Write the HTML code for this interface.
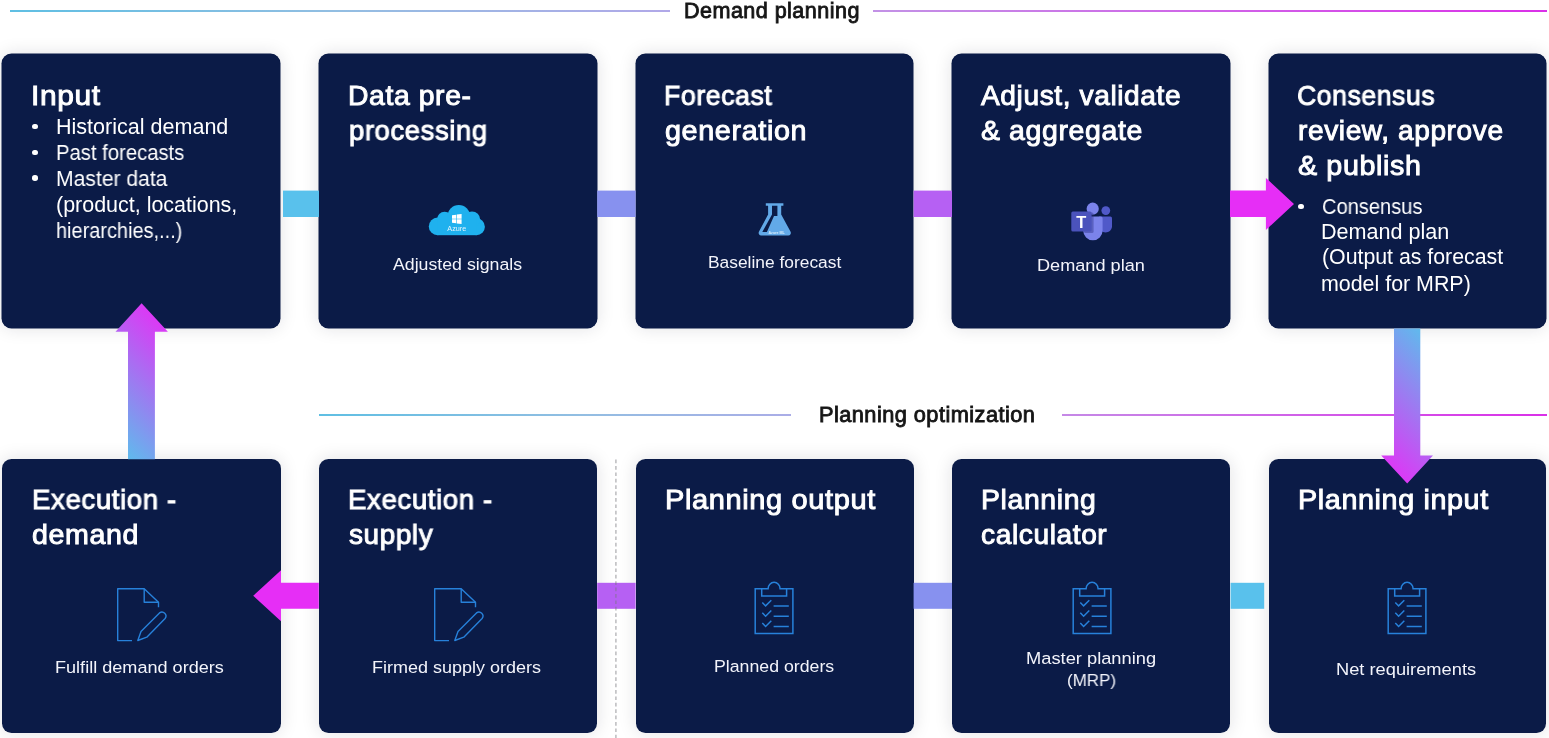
<!DOCTYPE html>
<html lang="en">
<head>
<meta charset="utf-8">
<title>Demand planning and planning optimization flow</title>
<style>
html,body{margin:0;padding:0;background:#fff}
body{width:1549px;height:738px;overflow:hidden;position:relative;font-family:"Liberation Sans",sans-serif}
.stage{position:absolute;left:0;top:0;width:1549px;height:738px;overflow:hidden;background:#fff}
.rule{position:absolute;height:2px;background-repeat:no-repeat;background-image:linear-gradient(90deg,#5fbfe3 0%,#93bee2 21.5%,#b0a9e8 42.3%,#c391e6 56.6%,#d064e8 78%,#da30e8 100%)}
.label,.ln{position:absolute;height:0;line-height:0;white-space:pre;transform-origin:0 0;margin:0;padding:0;will-change:transform}
.label{font-weight:400;font-size:21.5px;color:#161616;-webkit-text-stroke:0.85px #161616;letter-spacing:0.45px}
.card{position:absolute;background:#0b1b47;border-radius:9.5px;box-shadow:0 0 0 .5px #0b1b47,0 0 18px rgba(20,20,40,.13);color:#fff;margin:0}
.card.low{box-shadow:0 0 18px rgba(20,20,40,.13)}
.card h2{margin:0;font-size:28px;font-weight:400;-webkit-text-stroke:0.95px #fff;letter-spacing:0.6px}
.card ul{margin:0;padding:0;list-style:none;font-size:21.3px;font-weight:400}
.card li{margin:0;padding:0}
.card p{margin:0;font-size:17.2px;font-weight:400;color:#f3f4fb}
.dot{position:absolute;width:5.6px;height:5.6px;margin:-.3px 0 0 -.3px;border-radius:50%;background:#fff}
.icon{position:absolute;overflow:visible;will-change:transform}
.conn{position:absolute}
.flow{position:absolute;left:0;top:0;pointer-events:none}
</style>
</head>
<body>
<div class="stage">

<div class="rule" style="left:10.3px;top:10.0px;width:659.3px;height:2.0px;background-size:1537.1px 100%;background-position:0.0px 0"></div>
<div class="rule" style="left:873.0px;top:10.0px;width:674.4px;height:2.0px;background-size:1537.1px 100%;background-position:-862.7px 0"></div>
<div class="label" style="left:683.84px;top:11.0px;transform:scaleX(1.0032)">Demand planning</div>
<div class="rule" style="left:319.2px;top:414.0px;width:472.1px;height:2.0px;background-size:1228.2px 100%;background-position:0.0px 0"></div>
<div class="rule" style="left:1061.6px;top:414.0px;width:485.8px;height:2.0px;background-size:1228.2px 100%;background-position:-742.4px 0"></div>
<div class="label" style="left:819.02px;top:415.0px;transform:scaleX(1.0117)">Planning optimization</div>
<section class="card" id="input" style="left:2px;top:54px;width:278px;height:274px">
<h2><span class="ln" style="left:28.96px;top:42.0px;transform:scaleX(1.0698)">Input</span></h2>
<ul>
<li><i class="dot" style="left:30.5px;top:69.9px"></i><span class="ln" style="left:53.63px;top:73.0px;transform:scaleX(1.0111)">Historical demand</span></li>
<li><i class="dot" style="left:30.5px;top:95.9px"></i><span class="ln" style="left:53.74px;top:99.0px;transform:scaleX(0.9509)">Past forecasts</span></li>
<li><i class="dot" style="left:30.5px;top:121.7px"></i><span class="ln" style="left:53.67px;top:125.0px;transform:scaleX(0.9914)">Master data</span><span class="ln" style="left:54.14px;top:151.0px;transform:scaleX(1.0076)">(product, locations,</span><span class="ln" style="left:54.00px;top:177.0px;transform:scaleX(0.9364)">hierarchies,...)</span></li>
</ul>
</section>
<section class="card" id="preprocessing" style="left:319px;top:54px;width:278px;height:274px">
<h2><span class="ln" style="left:29.43px;top:42.0px;transform:scaleX(1.0118)">Data pre-</span><span class="ln" style="left:29.67px;top:77.0px;transform:scaleX(0.9808)">processing</span></h2>
<svg class="icon" style="left:105.00px;top:146.00px" width="66" height="40" viewBox="424 200 66 40" aria-hidden="true">
<g fill="#1fb1ee"><circle cx="437.6" cy="226.4" r="8.8"/><circle cx="476.4" cy="226.7" r="8.5"/><circle cx="444.6" cy="219.3" r="7.6"/><circle cx="458.8" cy="216.2" r="11.2"/><circle cx="472" cy="219.6" r="8.2"/><rect x="437.6" y="218" width="38.8" height="17.2"/></g>
<path fill="#fff" d="M452 215.3l4.2 -0.6v4h-4.2zM456.8 214.6l4.8 -0.7v4.8h-4.8zM452 219.3h4.2v4l-4.2 -0.6zM456.8 219.3h4.8v4.8l-4.8 -0.7z"/>
<text x="456.8" y="230.6" font-family="'Liberation Sans',sans-serif" font-size="6.6" fill="#e4f5fd" text-anchor="middle" textLength="19" lengthAdjust="spacingAndGlyphs">Azure</text>
</svg>
<p><span class="ln" style="left:73.90px;top:210.0px;transform:scaleX(1.0313)">Adjusted signals</span></p>
</section>
<section class="card" id="forecast" style="left:636px;top:54px;width:277px;height:274px">
<h2><span class="ln" style="left:28.23px;top:42.0px;transform:scaleX(0.9530)">Forecast</span><span class="ln" style="left:29.13px;top:77.0px;transform:scaleX(1.0276)">generation</span></h2>
<svg class="icon" style="left:118.00px;top:145.00px" width="42" height="42" viewBox="754 199 42 42" aria-hidden="true">
<path fill="#62a9e8" d="M765.8 203.3H783.4V205.8H781.2V214.6L790.6 231.8a2.6 2.6 0 0 1 -2.3 3.8H761.2a2.6 2.6 0 0 1 -2.3 -3.8L768.1 214.6V205.8H765.8Z"/>
<path fill="#0b1b47" d="M772 205.8H777.4V216H774L766.9 232H762.3L772 214.6Z"/>
<text x="776.6" y="234.2" font-family="'Liberation Sans',sans-serif" font-size="3.6" font-weight="700" fill="#d8ecfb" text-anchor="middle">Azure ML</text>
</svg>
<p><span class="ln" style="left:71.68px;top:208.0px;transform:scaleX(1.0111)">Baseline forecast</span></p>
</section>
<section class="card" id="adjust" style="left:952px;top:54px;width:278px;height:274px">
<h2><span class="ln" style="left:29.25px;top:42.0px;transform:scaleX(1.0035)">Adjust, validate</span><span class="ln" style="left:29.09px;top:77.0px;transform:scaleX(1.0169)">&amp; aggregate</span></h2>
<svg class="icon" style="left:115.00px;top:144.00px" width="50" height="46" viewBox="1067 198 50 46" aria-hidden="true">
<circle cx="1105.8" cy="210.6" r="4.4" fill="#5059c9"/>
<path fill="#5059c9" d="M1099 216.6H1110.4a1.6 1.6 0 0 1 1.6 1.6V227a6.6 6.6 0 0 1 -13 0Z"/>
<circle cx="1092.7" cy="208.7" r="6.1" fill="#7b83eb"/>
<path fill="#7b83eb" d="M1083.2 216.6H1100.9a1.7 1.7 0 0 1 1.7 1.7V230.6a9.7 9.7 0 0 1 -19.4 0Z"/>
<rect x="1084" y="212.6" width="9.6" height="20.4" rx="1.6" fill="#2d3386" fill-opacity=".42"/>
<rect x="1071.3" y="211.5" width="20.3" height="20.1" rx="1.6" fill="#4b53bc"/>
<text x="1081.3" y="227.6" font-family="'Liberation Sans',sans-serif" font-size="16.4" font-weight="700" fill="#fff" text-anchor="middle">T</text>
</svg>
<p><span class="ln" style="left:85.02px;top:211.0px;transform:scaleX(1.0546)">Demand plan</span></p>
</section>
<section class="card" id="consensus" style="left:1269px;top:54px;width:277px;height:274px">
<h2><span class="ln" style="left:27.75px;top:42.0px;transform:scaleX(0.9494)">Consensus</span><span class="ln" style="left:28.65px;top:77.0px;transform:scaleX(1.0025)">review, approve</span><span class="ln" style="left:29.39px;top:112.0px;transform:scaleX(1.0249)">&amp; publish</span></h2>
<ul>
<li><i class="dot" style="left:29.5px;top:150.1px"></i><span class="ln" style="left:52.86px;top:153.0px;transform:scaleX(0.9422)">Consensus</span><span class="ln" style="left:52.03px;top:178.0px;transform:scaleX(1.0130)">Demand plan</span><span class="ln" style="left:52.55px;top:203.0px;transform:scaleX(0.9975)">(Output as forecast</span><span class="ln" style="left:52.29px;top:230.0px;transform:scaleX(1.0044)">model for MRP)</span></li>
</ul>
</section>
<section class="card low" id="exec-demand" style="left:2px;top:459px;width:279px;height:274px">
<h2><span class="ln" style="left:29.57px;top:41.0px;transform:scaleX(0.9868)">Execution -</span><span class="ln" style="left:30.13px;top:76.0px;transform:scaleX(1.0220)">demand</span></h2>
<svg class="icon" style="left:108.00px;top:123.00px" width="62" height="66" viewBox="110 582 62 66" fill="none" stroke="#2781da" stroke-width="1.4" stroke-linejoin="round" stroke-linecap="butt" aria-hidden="true">
<path d="M132 640.6H117.7V588.7H144.2L158.5 602.2V607.2"/>
<path d="M144.2 588.7V602.2H158.5"/>
<path d="M137.8 640.5L141 631.6L159.5 612.9A4 4 0 0 1 165.1 618.5L146.8 637.2Z"/>
</svg>
<p><span class="ln" style="left:53.02px;top:208.0px;transform:scaleX(1.0521)">Fulfill demand orders</span></p>
</section>
<section class="card low" id="exec-supply" style="left:319px;top:459px;width:278px;height:274px">
<h2><span class="ln" style="left:29.47px;top:41.0px;transform:scaleX(0.9868)">Execution -</span><span class="ln" style="left:30.15px;top:76.0px;transform:scaleX(0.9970)">supply</span></h2>
<svg class="icon" style="left:108.20px;top:123.00px" width="62" height="66" viewBox="110 582 62 66" fill="none" stroke="#2781da" stroke-width="1.4" stroke-linejoin="round" stroke-linecap="butt" aria-hidden="true">
<path d="M132 640.6H117.7V588.7H144.2L158.5 602.2V607.2"/>
<path d="M144.2 588.7V602.2H158.5"/>
<path d="M137.8 640.5L141 631.6L159.5 612.9A4 4 0 0 1 165.1 618.5L146.8 637.2Z"/>
</svg>
<p><span class="ln" style="left:53.43px;top:208.0px;transform:scaleX(1.0468)">Firmed supply orders</span></p>
</section>
<section class="card low" id="plan-output" style="left:636px;top:459px;width:278px;height:274px">
<h2><span class="ln" style="left:28.59px;top:41.0px;transform:scaleX(1.0357)">Planning output</span></h2>
<svg class="icon" style="left:114.00px;top:117.00px" width="48" height="62" viewBox="750 576 48 62" fill="none" stroke="#2781da" stroke-width="1.5" stroke-linejoin="miter" aria-hidden="true">
<path d="M761.7 588.7H755.2V633.4H792.9V588.7H786.6"/>
<path d="M761.7 588.7H768.1a6 6.4 0 0 1 12 0H786.6V596.1H761.7Z"/>
<path d="M762.3 602.4L765.6 605.9L771.3 600.2M773.6 605.9H788.8"/>
<path d="M762.3 612.7L765.6 616.2L771.3 610.5M773.6 616.2H788.8"/>
<path d="M762.3 623L765.6 626.5L771.3 620.8M773.6 626.5H788.8"/>
</svg>
<p><span class="ln" style="left:78.25px;top:207.0px;transform:scaleX(1.0306)">Planned orders</span></p>
</section>
<section class="card low" id="plan-calc" style="left:952px;top:459px;width:278px;height:274px">
<h2><span class="ln" style="left:28.72px;top:41.0px;transform:scaleX(1.0150)">Planning</span><span class="ln" style="left:29.45px;top:76.0px;transform:scaleX(1.0040)">calculator</span></h2>
<svg class="icon" style="left:115.60px;top:117.00px" width="48" height="62" viewBox="750 576 48 62" fill="none" stroke="#2781da" stroke-width="1.5" stroke-linejoin="miter" aria-hidden="true">
<path d="M761.7 588.7H755.2V633.4H792.9V588.7H786.6"/>
<path d="M761.7 588.7H768.1a6 6.4 0 0 1 12 0H786.6V596.1H761.7Z"/>
<path d="M762.3 602.4L765.6 605.9L771.3 600.2M773.6 605.9H788.8"/>
<path d="M762.3 612.7L765.6 616.2L771.3 610.5M773.6 616.2H788.8"/>
<path d="M762.3 623L765.6 626.5L771.3 620.8M773.6 626.5H788.8"/>
</svg>
<p><span class="ln" style="left:73.60px;top:199.0px;transform:scaleX(1.0639)">Master planning</span><span class="ln" style="left:114.81px;top:221.0px;transform:scaleX(0.9864)">(MRP)</span></p>
</section>
<section class="card low" id="plan-input" style="left:1269px;top:459px;width:277px;height:274px">
<h2><span class="ln" style="left:29.00px;top:41.0px;transform:scaleX(1.0264)">Planning input</span></h2>
<svg class="icon" style="left:113.60px;top:117.00px" width="48" height="62" viewBox="750 576 48 62" fill="none" stroke="#2781da" stroke-width="1.5" stroke-linejoin="miter" aria-hidden="true">
<path d="M761.7 588.7H755.2V633.4H792.9V588.7H786.6"/>
<path d="M761.7 588.7H768.1a6 6.4 0 0 1 12 0H786.6V596.1H761.7Z"/>
<path d="M762.3 602.4L765.6 605.9L771.3 600.2M773.6 605.9H788.8"/>
<path d="M762.3 612.7L765.6 616.2L771.3 610.5M773.6 616.2H788.8"/>
<path d="M762.3 623L765.6 626.5L771.3 620.8M773.6 626.5H788.8"/>
</svg>
<p><span class="ln" style="left:66.81px;top:210.0px;transform:scaleX(1.0628)">Net requirements</span></p>
</section>
<svg class="flow" width="1549" height="738" viewBox="0 0 1549 738" aria-hidden="true">
<defs>
<linearGradient id="gUp" gradientUnits="userSpaceOnUse" x1="115.5" y1="459" x2="213.5" y2="361"><stop offset="0" stop-color="#56c4ec"/><stop offset="1" stop-color="#e62ef6"/></linearGradient>
<linearGradient id="gDown" gradientUnits="userSpaceOnUse" x1="1433" y1="328.6" x2="1335" y2="426.6"><stop offset="0" stop-color="#56c4ec"/><stop offset="1" stop-color="#e62ef6"/></linearGradient>
</defs>
<rect x="283" y="190.6" width="36" height="26.4" fill="#59c1ec"/>
<rect x="597.2" y="190.6" width="38.4" height="26.4" fill="#8791ef"/>
<rect x="913.6" y="190.6" width="38.4" height="26.4" fill="#b660f3"/>
<polygon points="1230,190.5 1265.9,190.5 1265.9,177.9 1294,203.9 1265.9,230 1265.9,217 1230,217" fill="#e62ef6"/>
<polygon points="1394,328.6 1420.3,328.6 1420.3,455.5 1433,455.5 1407.2,483.6 1381.2,455.5 1394,455.5" fill="url(#gDown)"/>
<rect x="1230.6" y="582.8" width="33.6" height="26" fill="#59c1ec"/>
<rect x="913.6" y="582.8" width="38.4" height="26" fill="#8791ef"/>
<rect x="597.2" y="582.8" width="38.4" height="26" fill="#b660f3"/>
<polygon points="318.8,582.7 281,582.7 281,570.3 253.2,595.8 281,621.3 281,608.7 318.8,608.7" fill="#e62ef6"/>
<polygon points="128,459.2 128,331.7 115.5,331.7 141.6,303.3 167.9,331.7 154.9,331.7 154.9,459.2" fill="url(#gUp)"/>
<line x1="615.9" y1="459.6" x2="615.9" y2="738" stroke="rgba(120,120,125,.5)" stroke-width="1.5" stroke-dasharray="3.7 2.7"/>
</svg>
</div>
</body>
</html>
